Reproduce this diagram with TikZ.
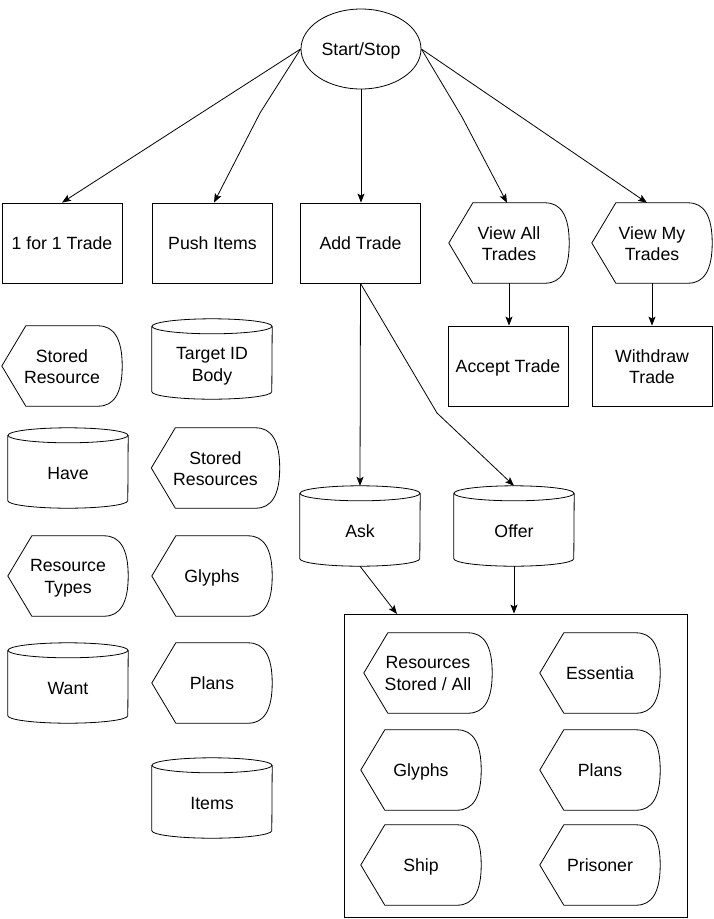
\documentclass[tikz,border=0pt]{standalone}
\usepackage{fontspec}
\setmainfont{Liberation Sans}
\usetikzlibrary{arrows.meta,calc,shapes.geometric}
\newcommand\drawdisp[1]{%
  \draw[shp] (#1.west) -- ([xshift=24pt]#1.north west) -- ([xshift=-24pt]#1.north east)
    .. controls ([xshift=-8pt]#1.north east) and ([yshift=-13.33pt]#1.north east) .. (#1.east)
    .. controls ([yshift=13.33pt]#1.south east) and ([xshift=-8pt]#1.south east) .. ([xshift=-24pt]#1.south east)
    -- ([xshift=24pt]#1.south west) -- cycle;}
\newcommand\drawcyl[1]{%
  \draw[shp] ([yshift=-7.5pt]#1.north west) -- ([yshift=7.5pt]#1.south west)
    arc[start angle=180,end angle=360,x radius=60pt,y radius=7.5pt]
    -- ([yshift=-7.5pt]#1.north east);
  \draw[shp] ([yshift=-7.5pt]#1.north) ellipse[x radius=60pt,y radius=7.5pt];}
\newcommand\linestrut{\rule[-3.75pt]{0pt}{19.75pt}}
\newcommand\dn[1]{\raisebox{-2.5pt}[\height][\depth]{#1}}
\begin{document}
\begin{tikzpicture}[x=1pt,y=-1pt,
  every node/.style={font=\fontsize{17.7}{21.7}\selectfont, align=center, inner sep=0pt,
    execute at begin node=\linestrut, execute at end node=\linestrut},
  shp/.style={draw=black, line width=0.8pt},
  rectbox/.style={shp, minimum width=120pt, minimum height=80pt},
  dispbox/.style={minimum width=120pt, minimum height=80pt},
  widedisp/.style={minimum width=128pt, minimum height=80pt},
  cylbox/.style={minimum width=120pt, minimum height=80pt},
  arr/.style={draw=black, line width=0.8pt, -{Stealth[length=9pt,width=7pt,inset=2pt]}}]
\fill[white] (0,0) rectangle (714,919);
\useasboundingbox (0,0) rectangle (714,919);

% top
\node[shp, ellipse, minimum width=120pt, minimum height=80pt] (start) at (361,49) {Start/Stop};
\node[rectbox] (t1) at (62,243) {1 for 1 Trade};
\node[rectbox] (push) at (212.5,243) {Push Items};
\node[rectbox] (add) at (360.5,243) {Add Trade};
\node[dispbox] (viewall) at (509,243) {\dn{View All}\\\dn{Trades}}; \drawdisp{viewall}
\node[dispbox] (viewmy) at (652,243) {\dn{View My}\\\dn{Trades}}; \drawdisp{viewmy}
\node[rectbox] (accept) at (508,366) {Accept Trade};
\node[rectbox] (withdraw) at (652,366) {\dn{Withdraw}\\\dn{Trade}};

% column 1
\node[dispbox] (sr1) at (62,366) {\dn{Stored}\\\dn{Resource}}; \drawdisp{sr1}
\node[cylbox] (have) at (68,468) {}; \drawcyl{have}
\node (havet) at (68,473) {Have};
\node[dispbox] (rtypes) at (68,576) {\dn{Resource}\\\dn{Types}}; \drawdisp{rtypes}
\node[cylbox] (want) at (68,683) {}; \drawcyl{want}
\node (wantt) at (68,688) {Want};

% column 2
\node[cylbox] (target) at (212,359) {}; \drawcyl{target}
\node (targett) at (212,364) {\dn{Target ID}\\\dn{Body}};
\node[widedisp] (srs) at (215.5,468) {\dn{Stored}\\\dn{Resources}}; \drawdisp{srs}
\node[dispbox] (glyphsa) at (212,576) {Glyphs}; \drawdisp{glyphsa}
\node[dispbox] (plansa) at (212,683) {Plans}; \drawdisp{plansa}
\node[cylbox] (items) at (212,798) {}; \drawcyl{items}
\node (itemst) at (212,803) {Items};

% column 3
\node[cylbox] (ask) at (360,526) {}; \drawcyl{ask}
\node (askt) at (360,531) {Ask};
\node[cylbox] (offer) at (514,526) {}; \drawcyl{offer}
\node (offert) at (514,531) {Offer};

% container
\node[shp, minimum width=343pt, minimum height=303pt] (cont) at (515.5,765.5) {};
\node[widedisp] (res) at (428,673) {\dn{Resources}\\\dn{Stored / All}}; \drawdisp{res}
\node[dispbox] (ess) at (600,673) {Essentia}; \drawdisp{ess}
\node[dispbox] (glyphsb) at (421,770) {Glyphs}; \drawdisp{glyphsb}
\node[dispbox] (plansb) at (600,770) {Plans}; \drawdisp{plansb}
\node[dispbox] (ship) at (421,865) {Ship}; \drawdisp{ship}
\node[dispbox] (pris) at (600,865) {Prisoner}; \drawdisp{pris}

% connectors
\coordinate (bp1) at (260,113);
\coordinate (bp2) at (462,117);
\coordinate (bp3) at (437,413);
\coordinate (cin) at (397,614);
\draw[arr] (start.west) -- (t1.north);
\draw[arr] (start.west) -- (bp1) -- ([xshift=1.5pt]push.north);
\draw[arr] (start.south) -- (start.south |- add.north);
\draw[arr] (start.east) -- (bp2) -- ([xshift=-2pt]viewall.north);
\draw[arr] (start.east) -- ([xshift=-5pt]viewmy.north);
\draw[arr] (viewall.south) -- (viewall.south |- accept.north);
\draw[arr] (viewmy.south) -- (viewmy.south |- withdraw.north);
\draw[arr] (add.south) -- (ask.north);
\draw[arr] (add.south) -- (bp3) -- (offer.north);
\draw[arr] (ask.south) -- (cin);
\draw[arr] (offer.south) -- (offer.south |- cont.north);
\end{tikzpicture}
\end{document}
